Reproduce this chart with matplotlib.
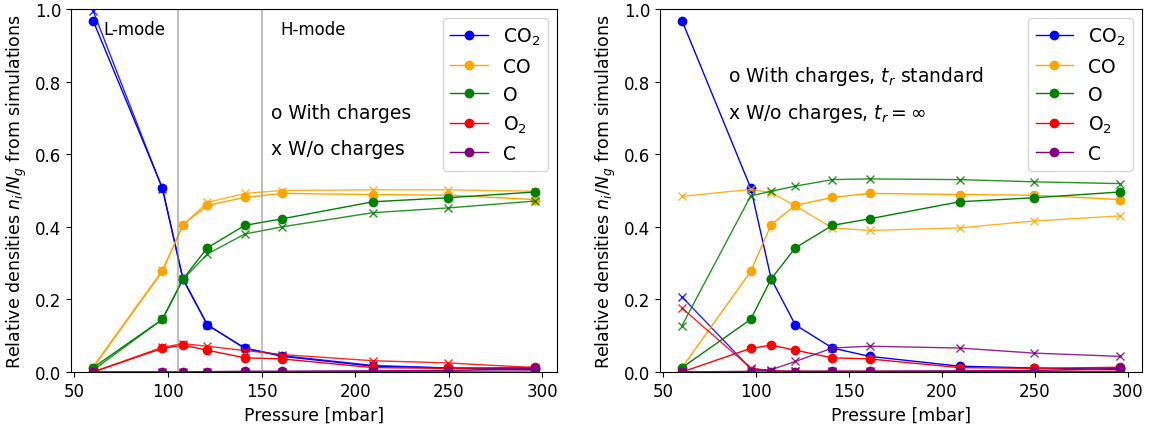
import numpy as np
import matplotlib
matplotlib.use("Agg")
import matplotlib.pyplot as plt

# presion [mbar]
pressure = [60, 97, 108, 121, 141, 161, 209.5, 249.5, 296]

# con cargas (o), t_r estandar
co2_o = [0.968, 0.507, 0.257, 0.130, 0.066, 0.043, 0.016, 0.011, 0.007]
co_o = [0.012, 0.277, 0.406, 0.459, 0.481, 0.492, 0.489, 0.487, 0.475]
o_o = [0.012, 0.145, 0.256, 0.342, 0.404, 0.422, 0.469, 0.480, 0.496]
o2_o = [0.0, 0.065, 0.074, 0.060, 0.039, 0.036, 0.012, 0.010, 0.013]
c_o = [0.0, 0.0, 0.0, 0.001, 0.002, 0.002, 0.003, 0.004, 0.010]

# sin cargas (x)
co2_x = [0.995, 0.505, 0.255, 0.130, 0.065, 0.045, 0.018, 0.011, 0.008]
co_x = [0.015, 0.280, 0.405, 0.467, 0.492, 0.500, 0.502, 0.502, 0.498]
o_x = [0.005, 0.145, 0.255, 0.325, 0.380, 0.400, 0.439, 0.452, 0.471]
o2_x = [0.0, 0.068, 0.078, 0.071, 0.059, 0.048, 0.031, 0.025, 0.012]
c_x = [0.0, 0.0, 0.0, 0.0, 0.001, 0.001, 0.002, 0.002, 0.003]

# sin cargas, t_r = inf
co2_inf = [0.207, 0.009, 0.003, 0.002, 0.001, 0.001, 0.001, 0.001, 0.001]
co_inf = [0.484, 0.503, 0.494, 0.458, 0.397, 0.390, 0.397, 0.416, 0.430]
o_inf = [0.128, 0.485, 0.498, 0.512, 0.530, 0.532, 0.530, 0.524, 0.519]
o2_inf = [0.176, 0.011, 0.003, 0.002, 0.002, 0.002, 0.002, 0.002, 0.002]
c_inf = [0.0, 0.002, 0.006, 0.029, 0.066, 0.071, 0.066, 0.052, 0.043]

species = ["CO$_2$", "CO", "O", "O$_2$", "C"]
colors = ["blue", "orange", "green", "red", "purple"]
mode_lines = [105.5, 150]

fig = plt.figure(figsize=(11.49, 4.27), dpi=100)
ax1 = fig.add_axes([0.0618, 0.1265, 0.423, 0.85])
ax2 = fig.add_axes([0.5745, 0.1265, 0.4195, 0.85])

with_charges = [co2_o, co_o, o_o, o2_o, c_o]
no_charges = [co2_x, co_x, o_x, o2_x, c_x]
no_charges_inf = [co2_inf, co_inf, o_inf, o2_inf, c_inf]

for ax, xs in [(ax1, no_charges), (ax2, no_charges_inf)]:
    for name, col, yo, yx in zip(species, colors, with_charges, xs):
        ax.plot(pressure, yo, "o-", color=col, lw=1, ms=6, label=name)
        ax.plot(pressure, yx, "x-", color=col, lw=1, ms=6, alpha=0.85)
    ax.set_ylim(0, 1)
    ax.set_xlabel("Pressure [mbar]", fontsize=12.5)
    ax.set_ylabel("Relative densities $n_i/N_g$ from simulations", fontsize=12.5)
    ax.tick_params(labelsize=12)
    ax.legend(loc="upper right", fontsize=13.5)

for v in mode_lines:
    ax1.axvline(v, color="gray", alpha=0.5, lw=1.5)

ax1.text(65.5, 0.945, "L-mode", fontsize=12, va="center")
ax1.text(160, 0.945, "H-mode", fontsize=12, va="center")
ax1.text(155, 0.716, "o With charges", fontsize=13.5, va="center")
ax1.text(155, 0.617, "x W/o charges", fontsize=13.5, va="center")

ax2.text(85, 0.818, "o With charges, $t_r$ standard", fontsize=13.5, va="center")
ax2.text(85, 0.716, r"x W/o charges, $t_r = \infty$", fontsize=13.5, va="center")

plt.savefig("out.png", dpi=100)
